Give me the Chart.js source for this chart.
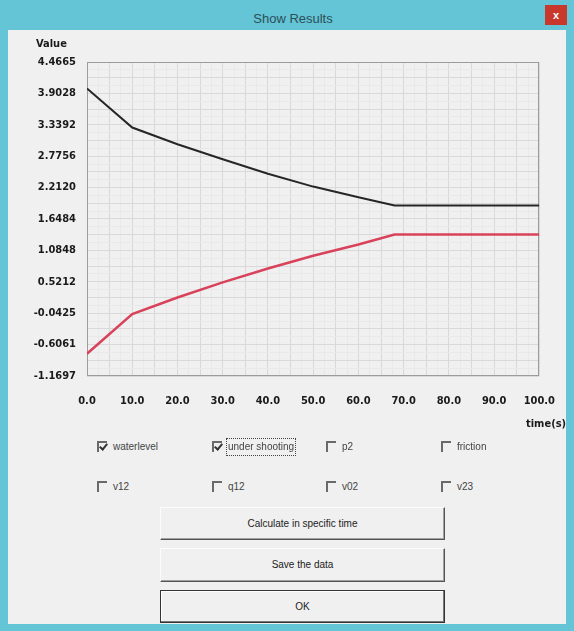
<!DOCTYPE html>
<html><head><meta charset="utf-8">
<script src="https://cdn.jsdelivr.net/npm/chart.js@4"></script>
<style>
html,body{margin:0;padding:0;}
body{width:574px;height:631px;position:relative;overflow:hidden;background:#63c5d5;font-family:"Liberation Sans",Arial,sans-serif;}
#client{position:absolute;left:8px;top:30px;width:558px;height:594px;background:#f0f0f0;}
#title{position:absolute;left:0;top:11px;width:586px;text-align:center;font-size:13px;color:#2e4e58;}
#close{position:absolute;left:545px;top:5px;width:22px;height:20px;background:#c8392c;color:#fff;font:bold 11px "Liberation Sans",sans-serif;text-align:center;line-height:20px;}
#chartwrap{position:absolute;left:0;top:0;width:574px;height:440px;}
.lbl{position:absolute;font:bold 11px "DejaVu Sans Condensed","Liberation Sans Narrow",sans-serif;color:#1a1a1a;white-space:nowrap;}
.cb{position:absolute;font-size:10px;color:#444;line-height:14px;white-space:nowrap;}
.box{position:absolute;width:8px;height:9px;border-top:2px solid #6a6a6a;border-left:2px solid #6a6a6a;}
.chk{position:absolute;left:2px;top:-1px;width:3px;height:6px;border-right:2px solid #333;border-bottom:2px solid #333;transform:rotate(40deg);}
.focus{outline:1px dotted #444;outline-offset:1px;}
.btn{position:absolute;left:160px;width:283px;background:#f0f0f0;border:1px solid;border-color:#fcfcfc #555 #555 #fcfcfc;box-shadow:inset -1px -1px #a0a0a0;font-size:10px;color:#222;text-align:center;}
.ok{border:1px solid #333;box-shadow:inset -1px -1px #777, inset 1px 1px #fff;}
</style></head>
<body>
<div id="client"></div>
<div id="title">Show Results</div>
<div id="close">x</div>
<div id="chartwrap"><canvas id="c" width="574" height="440"></canvas></div>
<div class="lbl" style="left:36px;top:37px;">Value</div>
<div class="lbl" style="left:526px;top:417px;">time(s)</div>

<div class="box" style="left:97px;top:441px;"><div class="chk"></div></div>
<div class="cb" style="left:113px;top:440px;">waterlevel</div>
<div class="box" style="left:212px;top:441px;"><div class="chk"></div></div>
<div class="cb focus" style="left:228px;top:440px;">under shooting</div>
<div class="box" style="left:326px;top:441px;"></div>
<div class="cb" style="left:342px;top:440px;">p2</div>
<div class="box" style="left:441px;top:441px;"></div>
<div class="cb" style="left:457px;top:440px;">friction</div>

<div class="box" style="left:97px;top:481px;"></div>
<div class="cb" style="left:113px;top:480px;">v12</div>
<div class="box" style="left:212px;top:481px;"></div>
<div class="cb" style="left:228px;top:480px;">q12</div>
<div class="box" style="left:326px;top:481px;"></div>
<div class="cb" style="left:342px;top:480px;">v02</div>
<div class="box" style="left:441px;top:481px;"></div>
<div class="cb" style="left:457px;top:480px;">v23</div>

<div class="btn" style="top:507px;height:31px;line-height:31px;">Calculate in specific time</div>
<div class="btn" style="top:548px;height:32px;line-height:32px;">Save the data</div>
<div class="btn ok" style="top:590px;height:31px;line-height:31px;">OK</div>

<script>
const timeValues = [0, 10, 20, 30, 40, 50, 60, 68, 80, 90, 100];
const waterlevel = [3.99, 3.29, 2.99, 2.72, 2.46, 2.23, 2.04, 1.89, 1.89, 1.89, 1.89];
const underShooting = [-0.77, -0.06, 0.24, 0.51, 0.76, 0.99, 1.19, 1.37, 1.37, 1.37, 1.37];
const xTickLabels = ['0.0','10.0','20.0','30.0','40.0','50.0','60.0','70.0','80.0','90.0','100.0'];
const yTickLabels = ['4.4665','3.9028','3.3392','2.7756','2.2120','1.6484','1.0848','0.5212','-0.0425','-0.6061','-1.1697'];

const PLOT = {left: 87, top: 62, right: 544, bottom: 376};
const CANVAS_H = 440, CANVAS_W = 574;

function buildTicks(labels, sub) {
  const majors = labels.map(l => ({value: parseFloat(l), lbl: l}));
  majors.sort((a, b) => a.value - b.value);
  const out = [];
  for (let i = 0; i < majors.length; i++) {
    out.push({value: majors[i].value, lbl: majors[i].lbl, level: 0});
    if (i < majors.length - 1) {
      const a = majors[i].value, b = majors[i + 1].value;
      for (let k = 1; k < sub; k++) {
        out.push({value: a + (b - a) * k / sub, lbl: '', level: (k * 2 === sub) ? 1 : 2});
      }
    }
  }
  return out;
}

const tickFont = {family: '"DejaVu Sans Condensed","Liberation Sans Narrow",sans-serif', size: 11, weight: 'bold'};
const gridColor = ctx => {
  const t = ctx.tick;
  if (!t) return '#e2e2e2';
  return t.level === 2 ? '#e9e9e9' : '#d9d9d9';
};

const frame = {
  id: 'frame',
  beforeDatasetsDraw(chart) {
    const {ctx, chartArea: a} = chart;
    ctx.save();
    ctx.strokeStyle = '#9c9c9c';
    ctx.lineWidth = 1;
    ctx.strokeRect(Math.round(a.left) + 0.5, Math.round(a.top) + 0.5, Math.round(a.right - a.left) - 1, Math.round(a.bottom - a.top) - 1);
    ctx.restore();
  }
};

new Chart(document.getElementById('c'), {
  type: 'line',
  data: {
    datasets: [
      {label: 'waterlevel', data: timeValues.map((t, i) => ({x: t, y: waterlevel[i]})), borderColor: '#262626', borderWidth: 2, pointRadius: 0, tension: 0},
      {label: 'under shooting', data: timeValues.map((t, i) => ({x: t, y: underShooting[i]})), borderColor: '#d8435b', borderWidth: 2.5, pointRadius: 0, tension: 0}
    ]
  },
  options: {
    responsive: false,
    animation: false,
    events: [],
    layout: {padding: {left: 0, top: PLOT.top, right: CANVAS_W - PLOT.right, bottom: 0}},
    plugins: {legend: {display: false}, tooltip: {enabled: false}},
    scales: {
      x: {
        type: 'linear',
        min: parseFloat(xTickLabels[0]),
        max: parseFloat(xTickLabels[xTickLabels.length - 1]),
        afterBuildTicks: s => { s.ticks = buildTicks(xTickLabels, 4); },
        afterFit: s => { s.height = CANVAS_H - PLOT.bottom; },
        border: {display: false},
        grid: {color: gridColor, lineWidth: 1, drawTicks: false},
        ticks: {autoSkip: false, maxRotation: 0, padding: 19, color: '#1a1a1a', font: tickFont,
          callback: (v, i, ticks) => ticks[i].lbl || ''}
      },
      y: {
        type: 'linear',
        min: parseFloat(yTickLabels[yTickLabels.length - 1]),
        max: parseFloat(yTickLabels[0]),
        afterBuildTicks: s => { s.ticks = buildTicks(yTickLabels, 4); },
        afterFit: s => { s.width = PLOT.left; },
        border: {display: false},
        grid: {color: gridColor, lineWidth: 1, drawTicks: false},
        ticks: {autoSkip: false, padding: 11, color: '#1a1a1a', font: tickFont,
          callback: (v, i, ticks) => ticks[i].lbl || ''}
      }
    }
  },
  plugins: [frame]
});
</script>
</body></html>
